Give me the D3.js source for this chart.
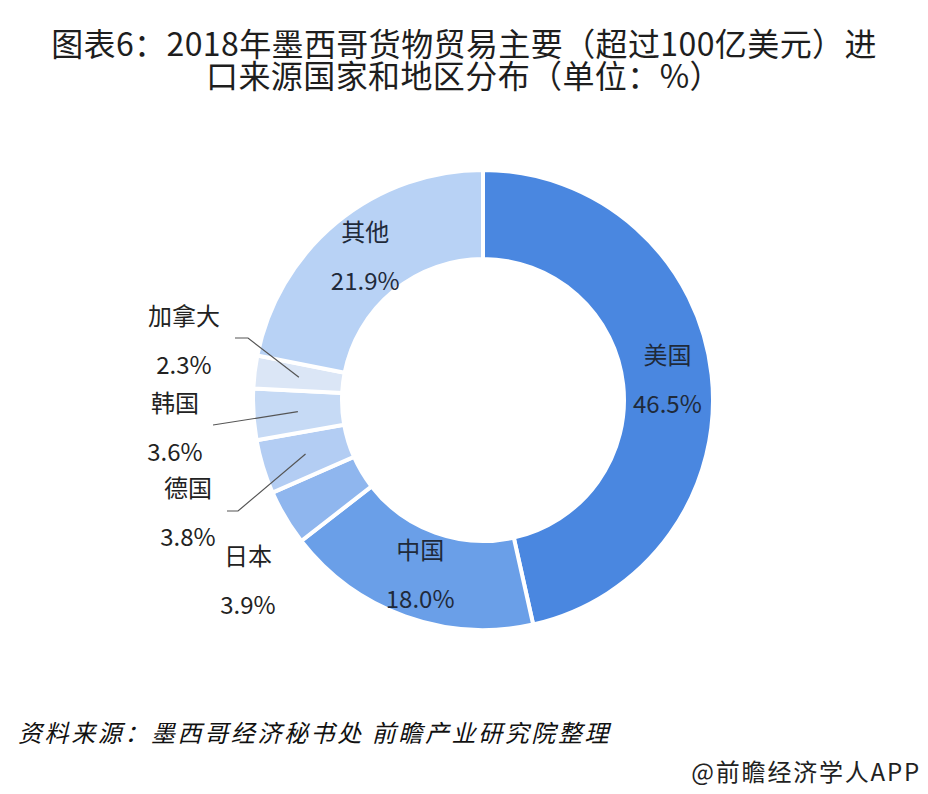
<!DOCTYPE html>
<html>
<head>
<meta charset="utf-8">
<script src="https://cdn.jsdelivr.net/npm/d3@7"></script>
<style>
  body { margin: 0; background: #fff; }
  svg text { font-family: "Noto Sans CJK SC", "Noto Sans", sans-serif; }
</style>
</head>
<body>
<div id="chart"></div>
<script>
var countries = ["美国", "中国", "日本", "德国", "韩国", "加拿大", "其他"];
var shares = [46.5, 18.0, 3.9, 3.8, 3.6, 2.3, 21.9];
var sliceColors = ["#4a87e0", "#6a9fe8", "#8fb6ee", "#b3cdf3", "#c6daf5", "#dbe6f6", "#b8d2f5"];

var titleLines = ["图表6：2018年墨西哥货物贸易主要（超过100亿美元）进",
                  "口来源国家和地区分布（单位：%）"];
var sourceText = "资料来源：墨西哥经济秘书处 前瞻产业研究院整理";
var brandText = "@前瞻经济学人APP";

var width = 928, height = 794;
var cx = 483, cy = 400;
var outerR = 230, innerR = 141;

var svg = d3.select("#chart").append("svg")
  .attr("width", width)
  .attr("height", height);

svg.append("rect")
  .attr("width", width)
  .attr("height", height)
  .attr("fill", "#fff");

// title, one text block with a tspan per line
var title = svg.append("text")
  .attr("class", "title")
  .attr("x", 464)
  .attr("y", 56)
  .attr("text-anchor", "middle")
  .attr("font-size", 32)
  .attr("letter-spacing", 0.4)
  .attr("fill", "#1e1e1e");

title.selectAll("tspan")
  .data(titleLines).enter()
  .append("tspan")
    .attr("x", 464)
    .attr("dy", function(d, i){ return i == 0 ? 0 : 32; })
    .text(function(d){ return d; });

var rows = countries.map(function(c, i){
  return {name: c, value: shares[i], color: sliceColors[i]};
});

var pie = d3.pie()
  .sort(null)
  .value(function(d){ return d.value; });

var arc = d3.arc()
  .innerRadius(innerR)
  .outerRadius(outerR);

var arcs = pie(rows);

var g = svg.append("g")
  .attr("transform", "translate(" + cx + "," + cy + ")");

g.selectAll("path.slice")
  .data(arcs).enter()
  .append("path")
    .attr("class", "slice")
    .attr("d", arc)
    .attr("fill", function(d){ return d.data.color; })
    .attr("stroke", "#fff")
    .attr("stroke-width", 4)
    .attr("stroke-linejoin", "miter");

// big slices get their label inside the ring
var inside = arcs.filter(function(d){ return d.data.value > 10; });
var outside = arcs.filter(function(d){ return d.data.value <= 10; });

var insideG = g.selectAll("g.inLabel")
  .data(inside).enter()
  .append("g")
    .attr("class", "inLabel")
    .attr("transform", function(d){
      var c = arc.centroid(d);
      return "translate(" + c[0] + "," + c[1] + ")";
    });

insideG.append("text")
  .attr("y", -16)
  .attr("text-anchor", "middle")
  .attr("font-size", 24)
  .attr("fill", "#1f2a3a")
  .text(function(d){ return d.data.name; });

insideG.append("text")
  .attr("y", 33)
  .attr("text-anchor", "middle")
  .attr("font-size", 24)
  .attr("fill", "#1f2a3a")
  .text(function(d){ return d3.format(".1f")(d.data.value) + "%"; });

// small slices: labels out on the left, leader line from slice centroid
var outLayout = {
  "加拿大": {lx: -299, ly: -59, ex: -248, ey: -62, knee: 13},
  "韩国":   {lx: -308, ly: 28,  ex: -270, ey: 25,  knee: 0},
  "德国":   {lx: -295, ly: 113, ex: -256, ey: 111, knee: 11},
  "日本":   {lx: -235, ly: 181, ex: null, ey: null, knee: 0}
};

outside.forEach(function(d){
  var p = outLayout[d.data.name];
  var c = arc.centroid(d);
  if(p.ex !== null){
    var pts = [c, [p.ex + p.knee, p.ey], [p.ex, p.ey]];
    g.append("path")
      .attr("d", d3.line()(pts))
      .attr("fill", "none")
      .attr("stroke", "#555")
      .attr("stroke-width", 1.2);
  }
  g.append("text")
    .attr("x", p.lx)
    .attr("y", p.ly - 16)
    .attr("text-anchor", "middle")
    .attr("font-size", 24)
    .attr("fill", "#222")
    .text(d.data.name);
  g.append("text")
    .attr("x", p.lx)
    .attr("y", p.ly + 33)
    .attr("text-anchor", "middle")
    .attr("font-size", 24)
    .attr("fill", "#222")
    .text(d3.format(".1f")(d.data.value) + "%");
});

// footer
svg.append("text")
  .attr("x", 18)
  .attr("y", 742)
  .attr("font-size", 24)
  .attr("letter-spacing", 2.6)
  .attr("font-style", "italic")
  .attr("fill", "#111")
  .text(sourceText);

svg.append("text")
  .attr("x", 921)
  .attr("y", 781)
  .attr("text-anchor", "end")
  .attr("font-size", 24)
  .attr("letter-spacing", 1.8)
  .attr("fill", "#222")
  .text(brandText);
</script>
</body>
</html>
